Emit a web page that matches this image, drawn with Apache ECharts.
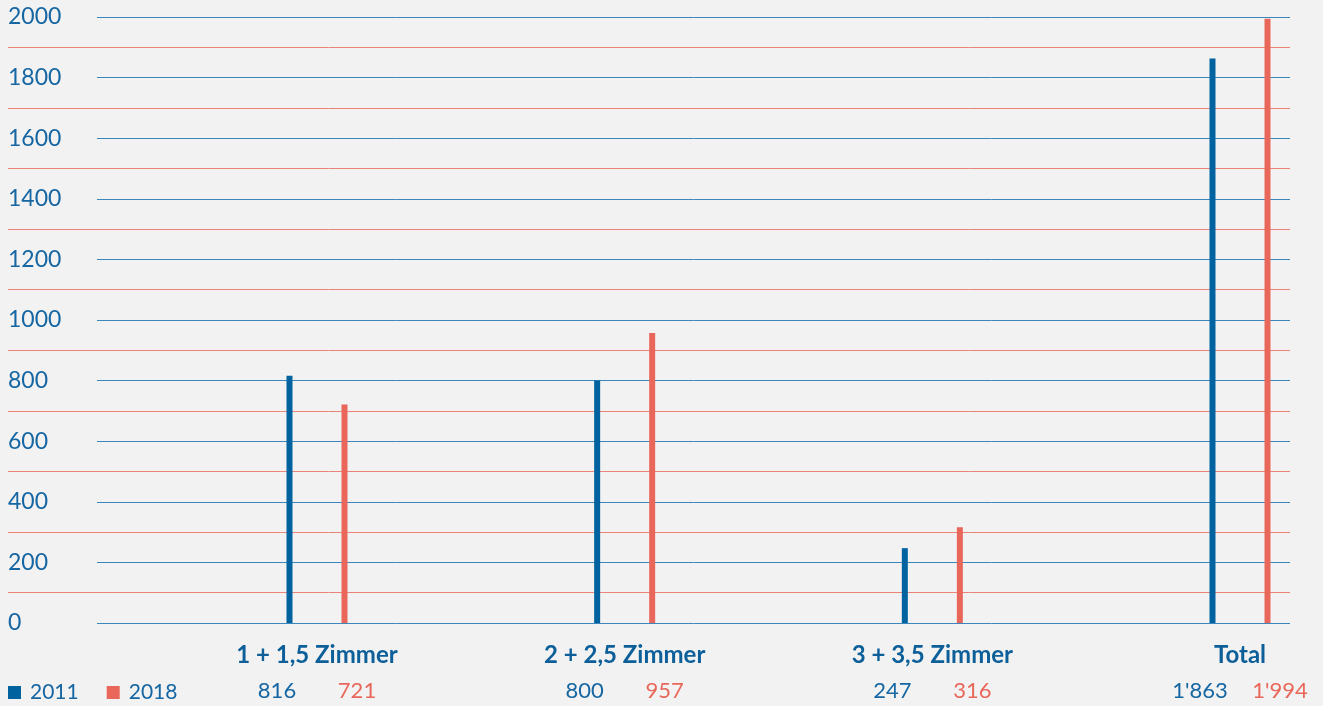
<!DOCTYPE html>
<html>
<head>
<meta charset="utf-8">
<script src="https://cdn.jsdelivr.net/npm/echarts@6/dist/echarts.min.js"></script>
<style>
  html, body { margin: 0; padding: 0; background: #f2f2f2; }
  #chart { width: 1323px; height: 706px; }
</style>
</head>
<body>
<div id="chart"></div>
<script>
// Wohnungen nach Zimmerzahl, 2011 und 2018
const categories = ['1 + 1,5 Zimmer', '2 + 2,5 Zimmer', '3 + 3,5 Zimmer', 'Total'];
const values2011 = [816, 800, 247, 1863];
const values2018 = [721, 957, 316, 1994];
const seriesNames = ['2011', '2018'];

const BLUE = '#00629f';
const RED = '#e8675a';
const TEXT_BLUE = '#1566a2';
const FONT = 'Lato, "Noto Sans", sans-serif';

// 1'863 style thousands separator
function fmt(v) {
  return String(v).replace(/\B(?=(\d{3})+(?!\d))/g, "'");
}

const chart = echarts.init(document.getElementById('chart'), null, { renderer: 'canvas' });

const Y_TOP = 17, Y_H = 606;

chart.setOption({
  backgroundColor: '#f2f2f2',
  animation: false,
  textStyle: { fontFamily: FONT },
  legend: {
    left: 8,
    top: 682,
    padding: 0,
    icon: 'rect',
    itemWidth: 13,
    itemHeight: 13,
    itemGap: 28,
    textStyle: { color: TEXT_BLUE, fontSize: 21, fontFamily: FONT, padding: [0, 0, 0, 4] },
    data: seriesNames
  },
  grid: [
    // red half-step lines
    { left: 8, right: 33, top: Y_TOP, height: Y_H },
    // blue lines and y labels
    { left: 97, right: 33, top: Y_TOP, height: Y_H },
    // bars: first and last category centres span this grid
    { left: 317, width: 924, top: Y_TOP, height: Y_H }
  ],
  xAxis: [
    { gridIndex: 0, type: 'value', show: false },
    { gridIndex: 1, type: 'value', show: false },
    {
      gridIndex: 2,
      type: 'category',
      boundaryGap: false,
      data: categories,
      axisLine: { show: false },
      axisTick: { show: false },
      splitLine: { show: false },
      axisLabel: {
        interval: 0,
        margin: 14,
        formatter: function (name, i) {
          return '{n|' + name + '}\n{a|' + fmt(values2011[i]) + '}{b|' + fmt(values2018[i]) + '}';
        },
        rich: {
          n: { fontSize: 24, fontWeight: 'bold', color: '#0d5f99', fontFamily: FONT, lineHeight: 36, align: 'center' },
          a: { fontSize: 22, color: TEXT_BLUE, fontFamily: FONT, width: 80, align: 'center', lineHeight: 36 },
          b: { fontSize: 22, color: RED, fontFamily: FONT, width: 80, align: 'center', lineHeight: 36 }
        }
      }
    }
  ],
  yAxis: [
    {
      gridIndex: 0, type: 'value', min: 0, max: 2000, interval: 100,
      axisLine: { show: false }, axisTick: { show: false }, axisLabel: { show: false },
      splitLine: { show: true, lineStyle: { color: ['rgba(0,0,0,0)', '#eb8478'], width: 1 } }
    },
    {
      gridIndex: 1, type: 'value', min: 0, max: 2000, interval: 200,
      axisLine: { show: false }, axisTick: { show: false },
      axisLabel: {
        align: 'left', margin: 89, fontSize: 23, color: TEXT_BLUE, fontFamily: FONT,
        formatter: function (v) { return String(v); }
      },
      splitLine: { show: true, lineStyle: { color: '#3a86bd', width: 1 } }
    },
    {
      gridIndex: 2, type: 'value', min: 0, max: 2000, show: false,
      splitLine: { show: false }
    }
  ],
  series: [
    {
      name: seriesNames[0],
      type: 'bar',
      xAxisIndex: 2,
      yAxisIndex: 2,
      data: values2011,
      barWidth: 6,
      barGap: '817%',
      itemStyle: { color: BLUE }
    },
    {
      name: seriesNames[1],
      type: 'bar',
      xAxisIndex: 2,
      yAxisIndex: 2,
      data: values2018,
      barWidth: 6,
      itemStyle: { color: RED }
    }
  ]
});
</script>
</body>
</html>
